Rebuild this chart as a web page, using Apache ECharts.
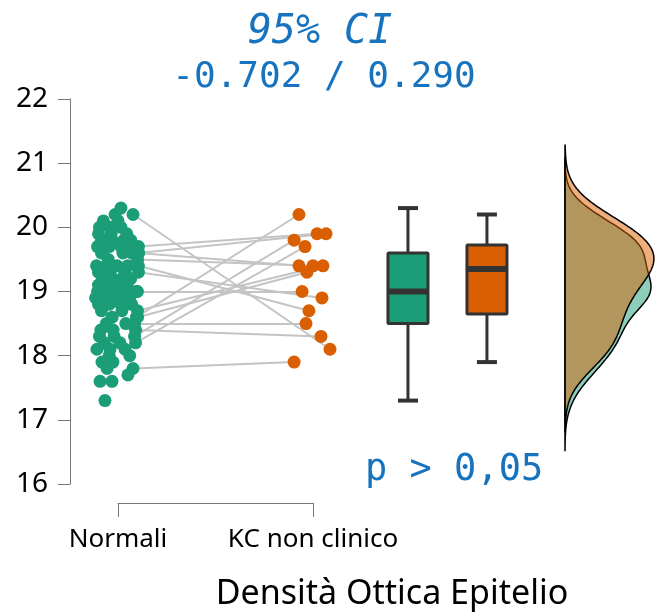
<!DOCTYPE html>
<html>
<head>
<meta charset="utf-8">
<script src="https://cdn.jsdelivr.net/npm/echarts@6/dist/echarts.min.js"></script>
<style>
  html, body { margin: 0; padding: 0; background: #fff; }
  #chart { width: 662px; height: 613px; }
</style>
</head>
<body>
<div id="chart"></div>
<script>
var categories = ['Normali', 'KC non clinico'];
var yTicks = [16, 17, 18, 19, 20, 21, 22];

// first 16 values of normali are paired with kc (same order)
var normali = [
  18.6, 19.7, 19.6, 18.3, 18.2, 19.6, 19.5, 18.7, 18.6, 19.0, 19.3, 19.4, 18.5, 18.4, 20.2, 17.8,
  17.3, 17.6, 17.6, 17.7, 17.8, 17.9, 17.9, 18.0, 18.0, 18.1, 18.1, 18.1, 18.2, 18.2, 18.3, 18.3,
  18.4, 18.4, 18.5, 18.5, 18.6, 18.7, 18.7, 18.8, 18.8, 18.8, 18.8,
  18.9, 18.9, 18.9, 18.9, 18.9, 19.0, 19.0, 19.0, 19.0, 19.0, 19.0,
  19.1, 19.1, 19.1, 19.1, 19.2, 19.2, 19.2, 19.2, 19.3, 19.3, 19.3, 19.4, 19.4, 19.4, 19.4,
  19.5, 19.6, 19.6, 19.6, 19.7, 19.7, 19.7, 19.7, 19.7, 19.8, 19.8, 19.8, 19.8, 19.9, 19.9, 19.9,
  20.0, 20.0, 20.0, 20.1, 20.1, 20.2, 20.3
];
var normaliJitter = [
  0.095, 0.105, 0.105, 0.085, 0.090, 0.105, 0.100, 0.100, 0.100, 0.100, 0.105, 0.105, 0.085, 0.090, 0.077, 0.077,
  -0.067, -0.092, -0.031, 0.051, -0.056, -0.082, -0.026, -0.045, 0.060, -0.108, -0.041, 0.036, -0.070, 0.010, -0.095, -0.020,
  -0.088, -0.025, -0.060, 0.040, -0.030, -0.085, 0.020, -0.100, -0.045, 0.015, 0.070,
  -0.115, -0.070, -0.025, 0.020, 0.060, -0.105, -0.060, -0.015, 0.030, 0.070, 0.095,
  -0.100, -0.050, 0.000, 0.045, -0.080, -0.030, 0.020, 0.065, -0.100, -0.040, 0.035, -0.110, -0.060, -0.005, 0.050,
  -0.050, -0.085, 0.025, 0.070, -0.105, -0.075, -0.045, 0.015, 0.075, -0.085, -0.030, 0.030, 0.065, -0.100, -0.035, 0.045,
  -0.095, -0.040, 0.015, -0.075, 0.000, -0.015, 0.015
];
var kc = [20.2, 19.9, 19.9, 19.8, 19.7, 19.4, 19.4, 19.4, 19.3, 19.0, 18.9, 18.7, 18.5, 18.3, 18.1, 17.9];
var kcJitter = [-0.072, 0.021, 0.067, -0.097, -0.041, -0.072, 0.000, 0.051, -0.031, -0.056, 0.046, -0.021, -0.036, 0.041, 0.087, -0.097];

var green = '#1b9e77', orange = '#d95f02', blue = '#1873be';
var catPos = [1, 2];          // x position of each group's dots
var boxPos = [2.487, 2.892];  // x position of each box

function quantile(sorted, p) {
  var h = (sorted.length - 1) * p, lo = Math.floor(h);
  var next = sorted[lo + 1] !== undefined ? sorted[lo + 1] : sorted[lo];
  return sorted[lo] + (h - lo) * (next - sorted[lo]);
}
function boxStats(vals) {
  var s = vals.slice().sort(function (a, b) { return a - b; });
  var q1 = quantile(s, 0.25), q3 = quantile(s, 0.75), iqr = q3 - q1;
  var lo = s.filter(function (v) { return v >= q1 - 1.5 * iqr; })[0];
  var hi = s.filter(function (v) { return v <= q3 + 1.5 * iqr; }).pop();
  return [lo, q1, quantile(s, 0.5), q3, hi];
}
function sd(vals) {
  var m = vals.reduce(function (a, b) { return a + b; }, 0) / vals.length;
  return Math.sqrt(vals.reduce(function (a, v) { return a + (v - m) * (v - m); }, 0) / (vals.length - 1));
}
// gaussian kde, bandwidth like R's bw.nrd0, cut = 3
function kde(vals) {
  var s = vals.slice().sort(function (a, b) { return a - b; });
  var iqr = quantile(s, 0.75) - quantile(s, 0.25);
  var bw = 0.9 * Math.min(sd(s), iqr / 1.34) * Math.pow(s.length, -0.2);
  var from = s[0] - 3 * bw, to = s[s.length - 1] + 3 * bw, pts = [];
  for (var i = 0; i <= 200; i++) {
    var y = from + (to - from) * i / 200, d = 0;
    s.forEach(function (v) { var z = (y - v) / bw; d += Math.exp(-0.5 * z * z); });
    pts.push([d / (s.length * bw * Math.sqrt(2 * Math.PI)), y]);
  }
  return pts;
}

var densG = kde(normali), densO = kde(kc);
function peak(d) { return Math.max.apply(null, d.map(function (p) { return p[0]; })); }
// x scale of the density panel (97px wide): green peak ~86px, orange peak at most ~95px
var densMax = 97 * Math.max(peak(densG) / 86, peak(densO) / 95);

var greenPts = normali.map(function (v, i) { return [catPos[0] + normaliJitter[i], v]; });
var orangePts = kc.map(function (v, i) { return [catPos[1] + kcJitter[i], v]; });
var pairLines = kc.map(function (v, i) { return { coords: [greenPts[i], orangePts[i]] }; });

var boxes = [boxStats(normali), boxStats(kc)].map(function (b, i) { return [boxPos[i]].concat(b).concat([i]); });

function renderBox(params, api) {
  var x = api.value(0), col = api.value(6) === 0 ? green : orange;
  var half = 0.1026, cap = 0.0513;
  var pMin = api.coord([x, api.value(1)]), pQ1 = api.coord([x, api.value(2)]);
  var pMed = api.coord([x, api.value(3)]), pQ3 = api.coord([x, api.value(4)]);
  var pMax = api.coord([x, api.value(5)]);
  var l = api.coord([x - half, 0])[0], r = api.coord([x + half, 0])[0];
  var cl = api.coord([x - cap, 0])[0], cr = api.coord([x + cap, 0])[0];
  var st = { stroke: '#333', lineWidth: 3 };
  return {
    type: 'group',
    children: [
      { type: 'line', shape: { x1: pMax[0], y1: pMax[1], x2: pQ3[0], y2: pQ3[1] }, style: st },
      { type: 'line', shape: { x1: pQ1[0], y1: pQ1[1], x2: pMin[0], y2: pMin[1] }, style: st },
      { type: 'line', shape: { x1: cl, y1: pMax[1], x2: cr, y2: pMax[1] }, style: { stroke: '#333', lineWidth: 4 } },
      { type: 'line', shape: { x1: cl, y1: pMin[1], x2: cr, y2: pMin[1] }, style: { stroke: '#333', lineWidth: 4 } },
      { type: 'rect', shape: { x: l, y: pQ3[1], width: r - l, height: pQ1[1] - pQ3[1], r: 1 }, style: { fill: col, stroke: '#333', lineWidth: 3 } },
      { type: 'line', shape: { x1: l, y1: pMed[1], x2: r, y2: pMed[1] }, style: { stroke: '#333', lineWidth: 6 } }
    ]
  };
}
function densityItem(dens, fill) {
  return function (params, api) {
    var pts = [api.coord([0, dens[0][1]])];
    dens.forEach(function (p) { pts.push(api.coord(p)); });
    pts.push(api.coord([0, dens[dens.length - 1][1]]));
    return { type: 'polygon', shape: { points: pts }, style: { fill: fill, stroke: '#000', lineWidth: 1.5 } };
  };
}

var chart = echarts.init(document.getElementById('chart'));
chart.setOption({
  animation: false,
  grid: [
    { left: 70, right: 0, top: 99, bottom: 129 },
    { left: 565, right: 0, top: 99, bottom: 129 },
    { left: 118, width: 195, top: 99, bottom: 110 }
  ],
  xAxis: [
    { gridIndex: 0, type: 'value', min: 0.7538, max: 3.7897, show: false },
    { gridIndex: 1, type: 'value', min: 0, max: densMax, show: false },
    {
      gridIndex: 2, type: 'category', data: categories, boundaryGap: false,
      axisLine: { lineStyle: { color: '#777', width: 1 } },
      axisTick: { length: 14, lineStyle: { color: '#777' } },
      axisLabel: { margin: 24, fontSize: 26, color: '#000', fontFamily: 'Noto Sans', interval: 0 }
    }
  ],
  yAxis: [
    {
      gridIndex: 0, type: 'value', min: yTicks[0], max: yTicks[yTicks.length - 1], interval: 1,
      splitLine: { show: false },
      axisLine: { show: true, lineStyle: { color: '#777', width: 1 } },
      axisTick: { show: true, length: 12, lineStyle: { color: '#777' } },
      axisLabel: { margin: 22, fontSize: 28, color: '#000', fontFamily: 'Noto Sans' }
    },
    { gridIndex: 1, type: 'value', min: 16, max: 22, show: false },
    { gridIndex: 2, type: 'value', show: false }
  ],
  graphic: [
    { type: 'text', x: 320, y: 33, style: { text: '95% CI', fill: blue, font: 'italic 40px "DejaVu Sans Mono"', textAlign: 'center', textVerticalAlign: 'middle' } },
    { type: 'text', x: 324, y: 78, style: { text: '-0.702 / 0.290', fill: blue, font: '36px "DejaVu Sans Mono"', textAlign: 'center', textVerticalAlign: 'middle' } },
    { type: 'text', x: 365, y: 470, style: { text: 'p > 0,05', fill: blue, font: '37px "DejaVu Sans Mono"', textAlign: 'left', textVerticalAlign: 'middle' } },
    { type: 'text', x: 392, y: 594, style: { text: 'Densità Ottica Epitelio', fill: '#000', font: '34px "Noto Sans"', textAlign: 'center', textVerticalAlign: 'middle' } }
  ],
  series: [
    {
      type: 'lines', coordinateSystem: 'cartesian2d', xAxisIndex: 0, yAxisIndex: 0,
      data: pairLines, lineStyle: { color: '#c4c4c4', width: 2, opacity: 1 }, z: 1
    },
    {
      type: 'scatter', xAxisIndex: 0, yAxisIndex: 0, data: greenPts, symbolSize: 13,
      itemStyle: { color: green, opacity: 1 }, z: 2
    },
    {
      type: 'scatter', xAxisIndex: 0, yAxisIndex: 0, data: orangePts, symbolSize: 13,
      itemStyle: { color: orange, opacity: 1 }, z: 2
    },
    {
      type: 'custom', xAxisIndex: 0, yAxisIndex: 0, data: boxes, renderItem: renderBox, z: 3
    },
    {
      type: 'custom', xAxisIndex: 1, yAxisIndex: 1, data: [0], renderItem: densityItem(densG, 'rgba(27,158,119,0.5)'), z: 3
    },
    {
      type: 'custom', xAxisIndex: 1, yAxisIndex: 1, data: [0], renderItem: densityItem(densO, 'rgba(217,95,2,0.5)'), z: 4
    }
  ]
});
</script>
</body>
</html>
